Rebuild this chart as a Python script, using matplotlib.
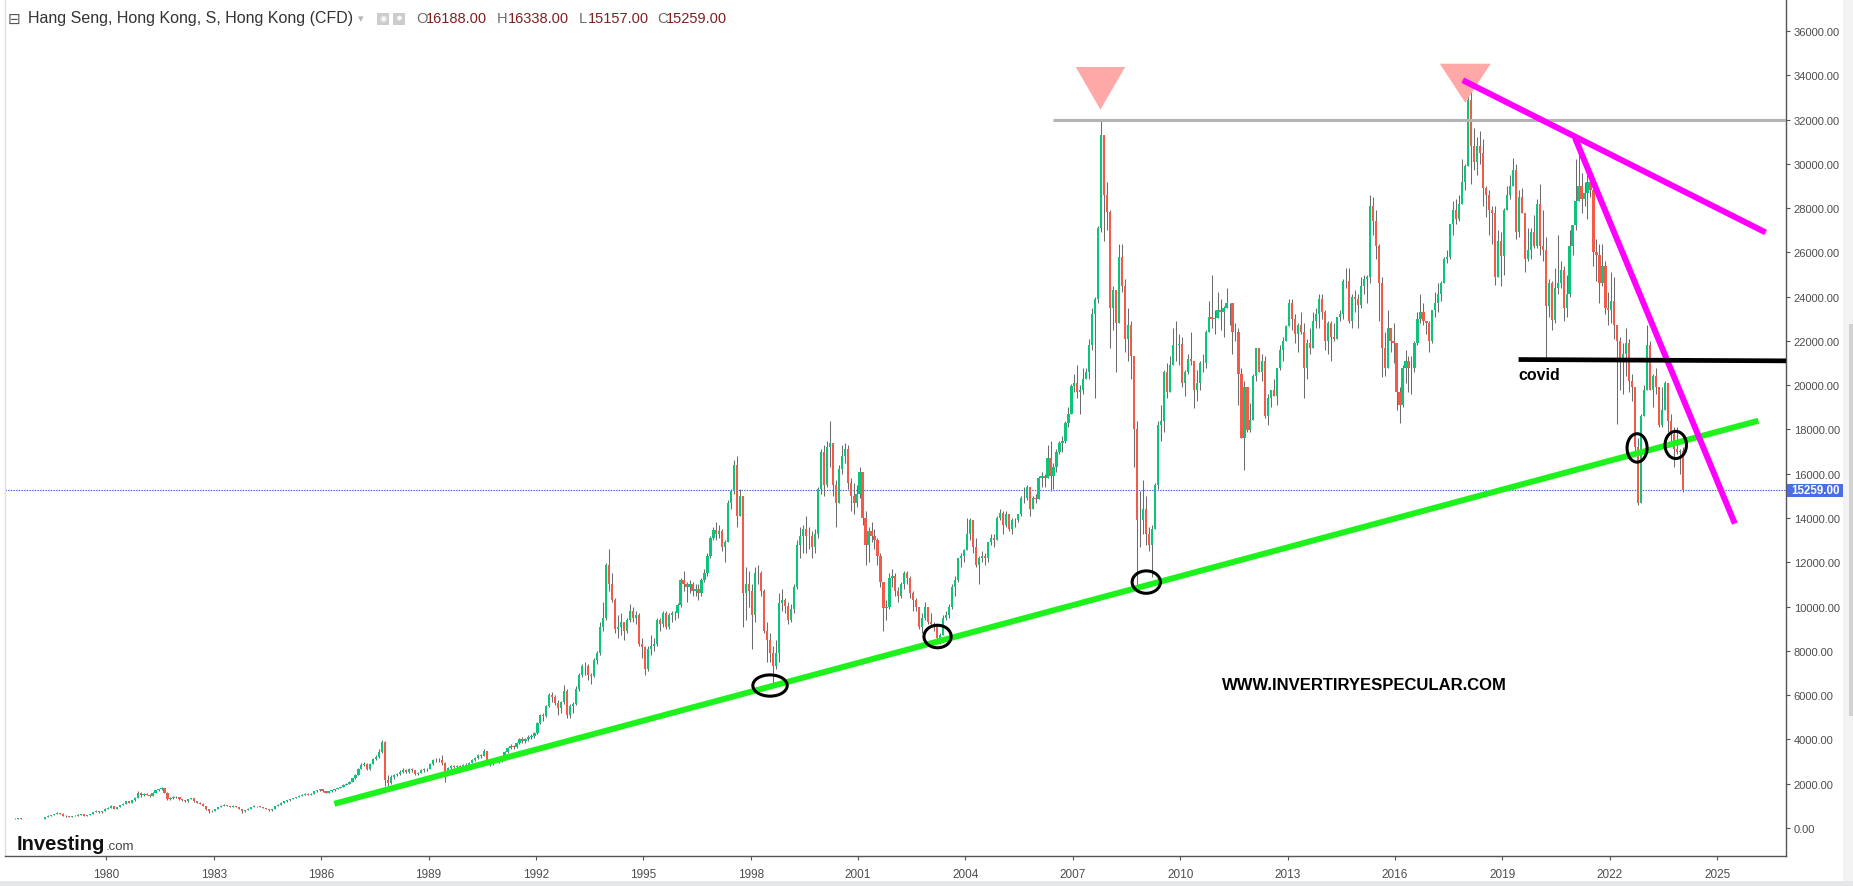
import matplotlib
matplotlib.use("Agg")
import matplotlib.pyplot as plt
import matplotlib.transforms as mtransforms
import numpy as np
from matplotlib.patches import Ellipse, Polygon, Rectangle

# ---------------- data (monthly) ----------------
start_year = 1977
first_open = 440.0

close_vals = [
    430, 425, 415, 410, 420, 425, 430, 420, 405, 395, 400, 404,            # 1977
    410, 400, 420, 480, 560, 590, 620, 680, 650, 560, 520, 495,            # 1978
    530, 560, 600, 620, 560, 590, 640, 720, 780, 700, 760, 879,            # 1979
    900, 1000, 880, 950, 1050, 1100, 1200, 1150, 1250, 1350, 1600, 1474,  # 1980
    1550, 1500, 1450, 1600, 1700, 1750, 1810, 1600, 1300, 1350, 1400, 1405,  # 1981
    1300, 1250, 1200, 1300, 1350, 1200, 1150, 1100, 1000, 850, 750, 783,  # 1982
    850, 950, 1000, 1050, 1000, 950, 1000, 950, 850, 750, 820, 875,       # 1983
    950, 1000, 980, 950, 900, 850, 800, 850, 1000, 1050, 1150, 1200,      # 1984
    1250, 1300, 1350, 1400, 1450, 1500, 1550, 1500, 1550, 1650, 1700, 1752,  # 1985
    1650, 1600, 1650, 1700, 1750, 1800, 1850, 1950, 2000, 2100, 2250, 2400,  # 1986
    2650, 2850, 2900, 2650, 2900, 3100, 3200, 3450, 3900, 2150, 2050, 2302,  # 1987
    2400, 2450, 2550, 2600, 2550, 2650, 2600, 2450, 2500, 2600, 2650, 2687,  # 1988
    2900, 3050, 3050, 3050, 2950, 2400, 2700, 2800, 2750, 2800, 2700, 2837,  # 1989
    2800, 2950, 3050, 3150, 3300, 3250, 3500, 3050, 2900, 3100, 3050, 3025,  # 1990
    3100, 3450, 3600, 3700, 3650, 3850, 4000, 3950, 4000, 4100, 4150, 4297,  # 1991
    4750, 5100, 5050, 5500, 6000, 5900, 5650, 5400, 5700, 6200, 5100, 5512,  # 1992
    5600, 6300, 6900, 7300, 7300, 6900, 6850, 7600, 7900, 9100, 9500, 11888,  # 1993
    11000, 10300, 9000, 9100, 9300, 8900, 9400, 9800, 9500, 9600, 8300, 8191,  # 1994
    7200, 8100, 8200, 8300, 9400, 9200, 9700, 9100, 9600, 9700, 9700, 10073,  # 1995
    11200, 11000, 10900, 11000, 10700, 10800, 10600, 11200, 11500, 12300, 13100, 13451,  # 1996
    13300, 13400, 12700, 12900, 14700, 15200, 16400, 14100, 15000, 10600, 11000, 10723,  # 1997
    9600, 11500, 11500, 10700, 8900, 8500, 7900, 7300, 7900, 10150, 10300, 10049,  # 1998
    9400, 9900, 10900, 12800, 13200, 13500, 13200, 13200, 12700, 13300, 15300, 16962,  # 1999
    15500, 17200, 17400, 15500, 14700, 16200, 16800, 17100, 15600, 15000, 14700, 15096,  # 2000
    16100, 14000, 12800, 13400, 13200, 13000, 12300, 11100, 9950, 10000, 11300, 11397,  # 2001
    10700, 10500, 11000, 11500, 11300, 10600, 10300, 10000, 9100, 9500, 10000, 9321,  # 2002
    9200, 9100, 8600, 8700, 9500, 9600, 10000, 10900, 11200, 12200, 12300, 12576,  # 2003
    13300, 13900, 12700, 11900, 12200, 12300, 12200, 12900, 13100, 13000, 14000, 14230,  # 2004
    13700, 14200, 13500, 13900, 13900, 14200, 14900, 14900, 15400, 14400, 14900, 14876,  # 2005
    15800, 15900, 15800, 16700, 15900, 16300, 17000, 17400, 17500, 18300, 18700, 19965,  # 2006
    20100, 19700, 19800, 20300, 20600, 21800, 23200, 23900, 27100, 31300, 28600, 27813,  # 2007
    23500, 24300, 22800, 25800, 24500, 22100, 22700, 21300, 18000, 13900, 13900, 14387,  # 2008
    13300, 12800, 13500, 15500, 18200, 18400, 20600, 19700, 20900, 21800, 21800, 21873,  # 2009
    20100, 20600, 21200, 21100, 19800, 20100, 21000, 21000, 22400, 23100, 23000, 23035,  # 2010
    23400, 23300, 23500, 23700, 23700, 22400, 22400, 20500, 17600, 19900, 17990, 18434,  # 2011
    20400, 21700, 20600, 21100, 18600, 19400, 19800, 19500, 20800, 21600, 22000, 22657,  # 2012
    23700, 23000, 22300, 22700, 22400, 20800, 21900, 21700, 22900, 23200, 23900, 23306,  # 2013
    22000, 22800, 22200, 22100, 23100, 23200, 24700, 24700, 22900, 24000, 23900, 23605,  # 2014
    24500, 24800, 24900, 28100, 27400, 26300, 24600, 21700, 20800, 22600, 22000, 21914,  # 2015
    19700, 19100, 20800, 21100, 20800, 20800, 21900, 23000, 23300, 22900, 22800, 22001,  # 2016
    23400, 23700, 24100, 24600, 25700, 25800, 27300, 27900, 27500, 28200, 29200, 29919,  # 2017
    32900, 30800, 30100, 30800, 30500, 28900, 28600, 27900, 27800, 24900, 26500, 25846,  # 2018
    27900, 28600, 29000, 29700, 26900, 28500, 27800, 25700, 26100, 26900, 26300, 28190,  # 2019
    26300, 26100, 23600, 24600, 22960, 24400, 24600, 25200, 23500, 24100, 26300, 27231,  # 2020
    28300, 29000, 28400, 28700, 29200, 28800, 26000, 25900, 24600, 25400, 23500, 23398,  # 2021
    23800, 22700, 22000, 21100, 21400, 21900, 20200, 19900, 17200, 14700, 18600, 19781,  # 2022
    21800, 19800, 20400, 19900, 18200, 18900, 20100, 18400, 17800, 17100, 17000, 17047,  # 2023
    15259,                                                                  # 2024 (Jan)
]

high_vals = [
    450, 435, 428, 418, 425, 432, 436, 432, 422, 408, 405, 410,
    418, 415, 425, 485, 570, 600, 630, 700, 690, 660, 570, 530,
    540, 575, 610, 640, 625, 600, 650, 730, 800, 790, 770, 885,
    960, 1030, 1010, 960, 1060, 1120, 1220, 1230, 1270, 1380, 1650, 1620,
    1580, 1570, 1520, 1610, 1720, 1770, 1830, 1820, 1610, 1400, 1450, 1430,
    1410, 1320, 1270, 1310, 1370, 1360, 1220, 1160, 1110, 1010, 860, 800,
    860, 960, 1020, 1070, 1060, 1010, 1020, 1010, 960, 860, 830, 890,
    960, 1020, 1010, 990, 960, 910, 860, 860, 1010, 1070, 1160, 1210,
    1260, 1320, 1370, 1420, 1470, 1520, 1580, 1570, 1560, 1660, 1720, 1770,
    1760, 1660, 1670, 1720, 1770, 1820, 1870, 1970, 2030, 2120, 2280, 2450,
    2700, 2950, 2980, 2950, 2950, 3150, 3300, 3550, 3960, 3950, 2400, 2400,
    2450, 2500, 2600, 2700, 2650, 2720, 2700, 2620, 2550, 2670, 2700, 2720,
    2950, 3120, 3150, 3150, 3310, 2980, 2740, 2850, 2860, 2850, 2830, 2880,
    2920, 2980, 3100, 3200, 3350, 3350, 3560, 3500, 3100, 3150, 3150, 3100,
    3150, 3500, 3650, 3800, 3750, 3900, 4050, 4100, 4050, 4200, 4250, 4350,
    4800, 5150, 5200, 5550, 6100, 6150, 6000, 5800, 5750, 6450, 6300, 5600,
    5700, 6400, 7000, 7400, 7500, 7400, 7000, 7700, 8000, 9300, 10200, 11950,
    12599, 11500, 10400, 9600, 9700, 9300, 9500, 10100, 10000, 9800, 9700, 8600,
    8200, 8200, 8700, 8600, 9500, 9500, 9800, 9800, 9700, 9800, 9800, 10150,
    11300, 11600, 11100, 11200, 11100, 11000, 11000, 11300, 11700, 12400, 13200, 13600,
    13800, 13700, 13500, 13000, 14800, 15300, 16600, 16820, 15300, 15000, 11800, 11600,
    11000, 11800, 11900, 11600, 10800, 9300, 8800, 8200, 8500, 10600, 10800, 10400,
    10200, 10100, 11000, 13000, 13600, 13700, 14100, 13600, 13400, 13500, 15400, 17100,
    17300, 17500, 18397, 17400, 15700, 16400, 17300, 17400, 17300, 15800, 15600, 15500,
    16300, 16100, 14300, 13600, 13800, 13500, 13100, 12400, 11000, 10300, 11500, 11700,
    11500, 10900, 11100, 11600, 11600, 11400, 10700, 10400, 10000, 9700, 10200, 10000,
    9700, 9300, 9200, 8800, 9600, 9800, 10100, 11000, 11400, 12200, 12400, 12600,
    14000, 14000, 13900, 13100, 12300, 12500, 12400, 12900, 13300, 13300, 14100, 14400,
    14300, 14300, 14200, 14000, 14000, 14200, 15000, 15400, 15500, 15400, 15000, 15100,
    15900, 16100, 16000, 17300, 17500, 16500, 17100, 17500, 17700, 18400, 19000, 20050,
    20500, 20900, 20000, 20800, 20800, 22100, 23500, 24000, 27200, 31958, 30200, 29200,
    27900, 24500, 24300, 26400, 26400, 24800, 23500, 22900, 21300, 18400, 15200, 15700,
    15000, 13600, 13700, 15600, 18400, 19100, 20700, 21000, 21300, 22600, 22900, 22300,
    22200, 20700, 21400, 22400, 21100, 20700, 21100, 21400, 22500, 23800, 24988, 23400,
    24200, 23900, 23600, 24400, 23700, 23600, 22800, 22600, 20800, 20200, 19900, 19200,
    20500, 21700, 21600, 21400, 21300, 19600, 19800, 20300, 20800, 21800, 22200, 22700,
    23900, 23900, 23200, 22800, 23300, 22800, 22100, 22600, 23300, 23500, 24100, 24100,
    23400, 22900, 22900, 22800, 23100, 23400, 24800, 25300, 25300, 24100, 24300, 24100,
    24900, 25000, 25000, 28588, 28500, 27900, 26400, 24900, 22400, 23400, 22600, 22800,
    21900, 19900, 20900, 21600, 21300, 21300, 22000, 23300, 24100, 23700, 22900, 22900,
    23400, 24200, 24600, 24700, 25800, 26100, 27300, 28300, 28400, 28600, 30200, 30000,
    33484, 33300, 31600, 31200, 31500, 31100, 29000, 28800, 28100, 28100, 27000, 26900,
    28000, 29000, 29500, 30280, 30000, 28800, 28900, 27600, 27100, 27100, 27700, 28400,
    29100, 27900, 26700, 24800, 24700, 25300, 26800, 25600, 25400, 25000, 27000, 27000,
    30200, 31183, 29600, 29200, 29500, 29400, 28800, 26600, 26400, 26400, 25600, 24200,
    25100, 24900, 22500, 22200, 21900, 22600, 22100, 20500, 19900, 17600, 18700, 20000,
    22700, 22000, 20500, 20800, 19900, 19900, 20200, 20100, 18700, 18100, 18100, 17100,
    17200,
]

low_vals = [
    420, 418, 408, 402, 405, 415, 420, 415, 400, 388, 390, 396,
    398, 392, 398, 418, 478, 550, 585, 615, 630, 540, 500, 480,
    490, 525, 555, 590, 550, 555, 585, 635, 710, 690, 690, 750,
    860, 890, 860, 870, 940, 1040, 1090, 1130, 1140, 1240, 1340, 1400,
    1460, 1470, 1420, 1440, 1580, 1680, 1730, 1580, 1250, 1260, 1330, 1370,
    1280, 1230, 1180, 1190, 1290, 1190, 1130, 1080, 980, 820, 680, 700,
    770, 840, 940, 990, 980, 940, 940, 930, 840, 690, 740, 810,
    870, 940, 960, 930, 890, 840, 750, 790, 840, 990, 1040, 1140,
    1190, 1240, 1290, 1340, 1390, 1440, 1490, 1490, 1490, 1540, 1640, 1690,
    1620, 1560, 1580, 1640, 1690, 1740, 1790, 1840, 1930, 1980, 2080, 2230,
    2400, 2750, 2780, 2600, 2600, 2880, 3050, 3150, 3400, 1900, 1890, 1980,
    2230, 2350, 2400, 2500, 2480, 2500, 2550, 2400, 2400, 2470, 2540, 2580,
    2670, 2850, 2960, 2980, 2850, 2093, 2380, 2650, 2700, 2720, 2620, 2650,
    2700, 2780, 2920, 3020, 3100, 3160, 3240, 3000, 2820, 2850, 2970, 2950,
    2980, 3080, 3400, 3550, 3580, 3600, 3800, 3850, 3850, 3950, 4000, 4050,
    4250, 4700, 4850, 5000, 5450, 5700, 5550, 5100, 5200, 5600, 4950, 4980,
    5200, 5550, 6200, 6800, 6900, 6700, 6500, 6800, 7400, 7800, 8900, 9400,
    10700, 10200, 8800, 8600, 8700, 8500, 8800, 9300, 9300, 9200, 8200, 7700,
    6890, 7100, 7800, 8000, 8200, 8900, 9100, 9000, 9000, 9300, 9400, 9500,
    10000, 10700, 10200, 10600, 10500, 10500, 10300, 10500, 11100, 11400, 12200, 13000,
    13000, 13100, 12500, 12000, 12900, 14400, 15100, 13600, 14100, 9059, 9400, 10000,
    8100, 9300, 11000, 10500, 8800, 7500, 7500, 6544, 7200, 7500, 9800, 9700,
    9200, 9300, 9700, 10800, 12200, 12400, 12400, 12600, 12200, 12400, 13100, 15100,
    15000, 15400, 16300, 15000, 13600, 14800, 16000, 16500, 15300, 14300, 14200, 14500,
    14900, 13700, 11900, 12000, 12900, 12600, 11900, 10900, 8894, 9400, 9900, 10900,
    10500, 10200, 10400, 10800, 11000, 10400, 9800, 9800, 9000, 8800, 9400, 9200,
    9100, 8900, 8500, 8331, 8700, 9400, 9500, 9900, 10500, 11100, 11800, 12000,
    12600, 13000, 12400, 11800, 11000, 12000, 11900, 12000, 12800, 12700, 13000, 13900,
    13300, 13600, 13400, 13300, 13600, 13800, 14100, 14700, 14800, 14100, 14400, 14700,
    14900, 15400, 15400, 15800, 15200, 15300, 16100, 16900, 17000, 17400, 18100, 18700,
    19700, 19400, 18700, 19600, 20300, 20300, 21600, 19400, 23700, 26900, 26500, 27000,
    21700, 22500, 20600, 22800, 24200, 21500, 21100, 20300, 16300, 10676, 12700, 13300,
    12800, 12500, 11345, 13500, 15300, 17500, 17900, 19400, 19800, 21100, 21100, 20900,
    19900, 19500, 20500, 20900, 18971, 19300, 19800, 20600, 20800, 22400, 22600, 22300,
    23100, 22500, 22200, 23600, 22700, 21400, 22000, 19100, 17600, 16170, 17900, 17900,
    18600, 20200, 20600, 20200, 18500, 18200, 19000, 19500, 19100, 20700, 21100, 22000,
    22700, 22500, 21900, 21500, 22300, 19400, 20300, 21400, 21800, 22600, 22600, 23000,
    21600, 21400, 21100, 22000, 22100, 22900, 23000, 24400, 22800, 22600, 23300, 22600,
    23500, 24100, 23700, 24600, 26800, 25700, 22900, 20368, 20400, 20800, 21500, 21000,
    18900, 18279, 19000, 20100, 19700, 19600, 20600, 21800, 22800, 22700, 22300, 21500,
    21900, 23100, 23300, 23800, 24600, 25500, 25700, 26800, 27300, 27400, 28800, 28800,
    29900, 29100, 29700, 29500, 30000, 28100, 27600, 26800, 26400, 24541, 25200, 24500,
    25000, 28000, 28400, 29000, 26600, 26700, 27800, 25100, 25600, 25700, 26200, 26200,
    25900, 25600, 21139, 23100, 22500, 22800, 24100, 24400, 22900, 23100, 24000, 25900,
    27000, 28300, 27800, 28100, 27500, 28500, 25400, 24700, 23700, 24500, 23200, 22700,
    22800, 22100, 18235, 19800, 19600, 20400, 19700, 19300, 17000, 14597, 14700, 18700,
    19800, 19800, 19000, 19600, 18100, 18100, 18900, 17900, 17400, 16300, 16900, 16000,
    15157,
]

last_ohlc_labels = ["O", "H", "L", "C"]
last_ohlc_values = [16188.00, 16338.00, 15157.00, 15259.00]
last_price = 15259.00

x_tick_years = list(range(1980, 2026, 3))
y_tick_values = list(range(0, 36001, 2000))

# drawn annotations (year, value)
resistance_level = 31958
resistance_start = 2006.44
top_markers = [(2007.77, 34374, 32445, 0.69), (2017.96, 34523, 32761, 0.71)]
green_trend = [(1986.37, 1094), (2026.15, 18396)]
magenta_upper = [(2017.89, 33778), (2026.35, 26900)]
magenta_steep = [(2021.03, 31157), (2025.49, 13751)]
covid_line = [(2019.45, 21160), (2026.92, 21100)]
circles = [(1998.54, 6435, 0.96, 960), (2003.22, 8649, 0.76, 1017),
           (2009.05, 11107, 0.79, 1012), (2022.76, 17167, 0.56, 1283),
           (2023.84, 17302, 0.60, 1229)]
covid_text_pos = (2019.45, 20500)
site_text_pos = (2015.14, 6489)

# ---------------- figure ----------------
W, H = 1853, 887
fig = plt.figure(figsize=(W / 100, H / 100), dpi=100)
fig.patch.set_facecolor("white")


def fx(px):
    return px / W


def fy(py):
    return 1 - py / H


ax = fig.add_axes([fx(5), fy(857), fx(1786) - fx(5), fy(0) - fy(857)])
ax.set_facecolor("white")

n = len(close_vals)
xs = np.array([start_year + (i + 0.5) / 12 for i in range(n)])
c = np.array(close_vals, dtype=float)
o = np.concatenate([[first_open], c[:-1]])
hi = np.maximum(np.array(high_vals, dtype=float), np.maximum(o, c))
lo = np.minimum(np.array(low_vals, dtype=float), np.minimum(o, c))

up_col, dn_col, wick_col = "#0cc47a", "#f45a4a", "#6c6c6c"
colors = [up_col if cc >= oo else dn_col for oo, cc in zip(o, c)]

ax.vlines(xs, lo, hi, color=wick_col, linewidth=0.75, zorder=2)
ax.bar(xs, np.abs(c - o), bottom=np.minimum(o, c), width=0.062,
       color=colors, linewidth=0, zorder=2.5)

# last price dotted line
ax.axhline(last_price, color="#2f5fd8", linestyle=(0, (1.2, 1.2)), linewidth=0.8, zorder=1.5)

# resistance line
ax.plot([resistance_start, 2026.92], [resistance_level, resistance_level],
        color="#b3b3b3", linewidth=2.2, solid_capstyle="butt", zorder=3)

# top markers
for xc, ytop, yapex, hw in top_markers:
    ax.add_patch(Polygon([(xc - hw, ytop), (xc + hw, ytop), (xc, yapex)],
                         closed=True, facecolor="#ffa8a8", edgecolor="none", zorder=3))

# trend lines
ax.plot(*zip(*green_trend), color="#1df21d", linewidth=4.3, solid_capstyle="butt", zorder=3)
ax.plot(*zip(*magenta_upper), color="#ff00ff", linewidth=4.3, solid_capstyle="butt", zorder=3)
ax.plot(*zip(*magenta_steep), color="#ff00ff", linewidth=4.3, solid_capstyle="butt", zorder=3)
ax.plot(*zip(*covid_line), color="black", linewidth=3.4, solid_capstyle="butt", zorder=3)

for xc, yc, w, h in circles:
    ax.add_patch(Ellipse((xc, yc), w, h, facecolor="none", edgecolor="black",
                         linewidth=2.2, zorder=4))

ax.text(covid_text_pos[0], covid_text_pos[1], "covid", fontsize=11.5, fontweight="bold",
        family="Liberation Sans", color="black", ha="left", va="center", zorder=5)
ax.text(site_text_pos[0], site_text_pos[1], "WWW.INVERTIRYESPECULAR.COM", fontsize=12,
        fontweight="bold", family="Liberation Sans", color="black",
        ha="center", va="center", zorder=5)

ax.set_xlim(1977.17, 2026.92)
ax.set_ylim(-1265, 37445)

# axes styling
ax.spines["top"].set_visible(False)
ax.spines["left"].set_color("#dcdfe6")
ax.spines["left"].set_linewidth(1.0)
ax.spines["right"].set_color("#555555")
ax.spines["bottom"].set_color("#555555")
ax.spines["right"].set_linewidth(1.0)
ax.spines["bottom"].set_linewidth(1.0)

ax.yaxis.tick_right()
ax.set_yticks(y_tick_values)
ax.set_yticklabels([f"{v:.2f}" for v in y_tick_values])
ax.tick_params(axis="y", direction="out", length=3, width=0.8, color="#555555",
               labelsize=8, labelcolor="#4d4d4d", pad=2.5)
ax.set_xticks(x_tick_years)
ax.set_xticklabels([str(y) for y in x_tick_years])
ax.tick_params(axis="x", direction="out", length=3, width=0.8, color="#555555",
               labelsize=8.5, labelcolor="#4d4d4d", pad=6)
for lab in ax.get_xticklabels():
    lab.set_family("Liberation Sans")
for lab in ax.get_yticklabels():
    lab.set_family("Liberation Sans")

# last price label box on the axis
btrans = mtransforms.blended_transform_factory(fig.transFigure, ax.transData)
ax.add_patch(Rectangle((fx(1787), last_price - 300), fx(1843) - fx(1787), 600,
                       transform=btrans, facecolor="#4a6fe3", edgecolor="none",
                       clip_on=False, zorder=6))
ax.text(fx(1815), last_price, f"{last_price:.2f}", transform=btrans, color="white",
        fontsize=8.3, fontweight="bold", family="Liberation Sans",
        ha="center", va="center", clip_on=False, zorder=7)

# frame decorations
fig.patches.append(Rectangle((0, 0), 1, 5 / H, transform=fig.transFigure,
                             facecolor="#e6e7eb", edgecolor="none", zorder=0))
fig.patches.append(Rectangle((fx(1843), 5 / H), fx(1853) - fx(1843), 1, transform=fig.transFigure,
                             facecolor="#f3f3f4", edgecolor="none", zorder=0))
fig.patches.append(Rectangle((fx(1849), fy(717)), fx(1853) - fx(1849), fy(325) - fy(717),
                             transform=fig.transFigure, facecolor="#d2d2d4",
                             edgecolor="none", zorder=0))

# header
title_y = fy(19)
fig.text(fx(8), title_y, "\u229f", family="DejaVu Sans", fontsize=11, color="#555555",
         ha="left", va="center")
fig.text(fx(28), title_y, "Hang Seng, Hong Kong, S, Hong Kong (CFD)", family="Liberation Sans",
         fontsize=11.5, color="#333333", ha="left", va="center")
fig.text(fx(358), title_y, "\u25be", family="DejaVu Sans", fontsize=8, color="#b5b5b5",
         ha="left", va="center")
for x0 in (377, 393):
    fig.patches.append(Rectangle((fx(x0), fy(26)), fx(12), 12 / H, transform=fig.transFigure,
                                 facecolor="#cccccc", edgecolor="none"))
fig.text(fx(383), title_y, "\u25c9", family="DejaVu Sans", fontsize=6, color="white",
         ha="center", va="center")
fig.text(fx(399), title_y, "\u2738", family="DejaVu Sans", fontsize=6, color="white",
         ha="center", va="center")
letter_x = [416, 497, 579, 657]
number_x = [426, 508, 588, 666]
for lx, nx, lab, val in zip(letter_x, number_x, last_ohlc_labels, last_ohlc_values):
    fig.text(fx(lx), title_y, lab, family="Liberation Sans", fontsize=10.5, color="#6b6b6b",
             ha="left", va="center")
    fig.text(fx(nx), title_y, f"{val:.2f}", family="Liberation Sans", fontsize=10.5,
             color="#7d2020", ha="left", va="center")

# logo
fig.text(fx(17), fy(850), "Investing", family="Liberation Sans", fontweight="bold",
         fontsize=14.5, color="#111111", ha="left", va="baseline")
fig.text(fx(106), fy(850), ".com", family="Liberation Sans", fontsize=9.5,
         color="#444444", ha="left", va="baseline")

fig.savefig("out.png", dpi=100, facecolor="white")
